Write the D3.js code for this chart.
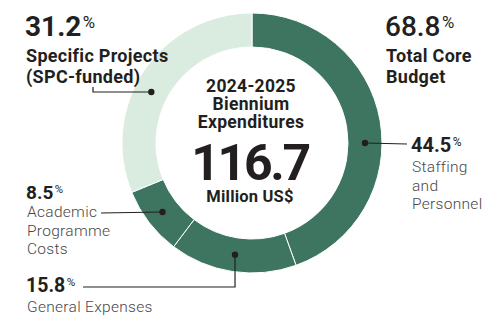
<!DOCTYPE html>
<html><head><meta charset="utf-8">
<script src="https://cdn.jsdelivr.net/npm/d3@7"></script>
<style>
html,body{margin:0;padding:0;background:#fff;}
svg{display:block;font-family:Roboto, "Open Sans", sans-serif;}
</style></head>
<body>
<svg id="chart" width="482" height="315"></svg>
<script>
// ---- data ----
const categories = ["Staffing and Personnel", "General Expenses", "Academic Programme Costs", "Specific Projects (SPC-funded)"];
const values = [44.5, 15.8, 8.5, 31.2];
const budgetGroup = ["core", "core", "core", "specific"];
const groupTotals = [68.8, 31.2];
const groupNames = ["Total Core Budget", "Specific Projects (SPC-funded)"];
const totalValue = 116.7;
const titleLines = ["2024-2025", "Biennium", "Expenditures"];
const unitLabel = "Million US$";

// ---- layout ----
const svg = d3.select("#chart");
const cx = 252, cy = 143, rOuter = 130, rInner = 96;
const color = d3.scaleOrdinal().domain(["core","specific"]).range(["#3d7561","#d9ecdf"]);
const ink = "#231f20", grey = "#4a4848";

const pie = d3.pie().sort(null).value(d => d).startAngle(0).endAngle(2*Math.PI);
const arcs = pie(values);
const arc = d3.arc().innerRadius(rInner).outerRadius(rOuter);
const g = svg.append("g").attr("transform", `translate(${cx},${cy})`);

g.selectAll("path.slice").data(arcs).join("path")
  .attr("class","slice")
  .attr("d", arc)
  .attr("fill", (d,i) => color(budgetGroup[i]))
  .attr("stroke", "#fff").attr("stroke-width", 1);

// center text
const ct = g.append("g").attr("fill", ink).attr("text-anchor","middle");
titleLines.forEach((t,i) => {
  ct.append("text").attr("x",-1).attr("y", -51 + i*18).attr("font-size",17.5)
    .attr("letter-spacing",0.3).attr("font-weight",700).text(t);
});
ct.append("text").attr("x",-2).attr("y",37).attr("font-size",50).attr("font-weight",700)
  .attr("letter-spacing",-2.3).text(d3.format(".1f")(totalValue));
ct.append("text").attr("x",-2).attr("y",59).attr("font-size",16.5).attr("font-weight",700)
  .attr("letter-spacing",0.2).text(unitLabel);

// dot positions on ring
const midR = (rInner + rOuter) / 2;
const dotAngle = [Math.PI/2, null, null, 297*Math.PI/180];
function dotPos(i){
  const a = dotAngle[i] != null ? dotAngle[i] : (arcs[i].startAngle + arcs[i].endAngle)/2;
  return [cx + midR*Math.sin(a), cy - midR*Math.cos(a)];
}

function pct(sel, x, y, v, size, bold){
  const t = sel.append("text").attr("x",x).attr("y",y).attr("fill",ink).attr("font-weight",bold);
  t.append("tspan").attr("font-size",size).text(d3.format(".1f")(v));
  t.append("tspan").attr("font-size",size*0.6).attr("dy",-size*0.3).attr("dx",1.5).attr("font-weight",400).text("%");
}
function lines(sel, x, y, arr, size, weight, fill, lh, ls){
  arr.forEach((s,i)=> sel.append("text").attr("x",x).attr("y",y+i*lh).attr("font-size",size)
    .attr("font-weight",weight).attr("fill",fill).attr("letter-spacing",ls||0).text(s));
}
const ann = svg.append("g");

// group totals
pct(ann, 25, 36, groupTotals[1], 28, 700);
lines(ann, 26, 62, ["Specific Projects","(SPC-funded)"], 18, 700, ink, 21, 0.3);
pct(ann, 385, 36, groupTotals[0], 28, 500);
lines(ann, 386, 62, ["Total Core","Budget"], 18, 700, ink, 21, 0.3);

// slice labels
pct(ann, 411, 152, values[0], 20, 700);
lines(ann, 412, 172, ["Staffing","and","Personnel"], 15.5, 300, grey, 18.5, 0.3);
pct(ann, 26, 199, values[2], 19, 700);
lines(ann, 27, 217, ["Academic","Programme","Costs"], 15.5, 300, grey, 18.5, 0.3);
pct(ann, 26, 292, values[1], 19.5, 700);
lines(ann, 27, 312, ["General Expenses"], 15.5, 300, grey, 18.5, 0.3);

// leader lines
const line = d3.line();
const leaders = [
  [[407,144], dotPos(0)],
  [[83,287], [dotPos(1)[0],287], dotPos(1)],
  [[101,213], dotPos(2)],
  [[93,87], [93,92], [dotPos(3)[0],92]]
];
ann.selectAll("path.leader").data(leaders).join("path")
  .attr("class","leader").attr("d", d => line(d))
  .attr("fill","none").attr("stroke", ink).attr("stroke-width",1.2);
ann.selectAll("circle.dot").data(values).join("circle")
  .attr("class","dot")
  .attr("cx",(d,i)=>dotPos(i)[0]).attr("cy",(d,i)=> i===3 ? 92 : dotPos(i)[1])
  .attr("r",3.2).attr("fill",ink);
</script>
</body></html>
